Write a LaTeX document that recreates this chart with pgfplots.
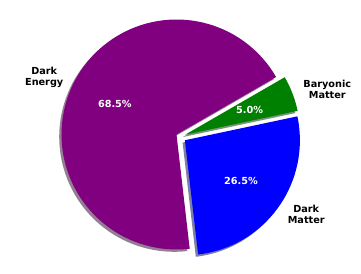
\documentclass[border=0pt]{standalone}
\usepackage{pgfplots}
\pgfplotsset{compat=1.18}
\usepackage{fontspec}
\setmainfont{DejaVu Sans}
\definecolor{mplpurple}{RGB}{128,0,128}
\definecolor{mplblue}{RGB}{0,0,255}
\definecolor{mplgreen}{RGB}{0,128,0}
% data (percent)
\def\vDE{68.5}\def\vDM{26.5}\def\vBM{5.0}
\def\startang{30}
\pgfmathsetmacro\aA{\startang}
\pgfmathsetmacro\aB{\aA+3.6*\vDE}
\pgfmathsetmacro\aC{\aB+3.6*\vDM}
\pgfmathsetmacro\aD{\aC+3.6*\vBM}
\pgfmathsetmacro\mDE{(\aA+\aB)/2}
\pgfmathsetmacro\mDM{(\aB+\aC)/2}
\pgfmathsetmacro\mBM{(\aC+\aD)/2}
% explode offsets of the wedges
\def\cxDE{0}\def\cyDE{0}
\def\cxDM{0.073}\def\cyDM{-0.05}
\def\cxBM{0.075}\def\cyBM{-0.002}
\pgfmathsetmacro\sxDE{\cxDE-0.02}\pgfmathsetmacro\syDE{\cyDE-0.02}
\pgfmathsetmacro\sxDM{\cxDM-0.02}\pgfmathsetmacro\syDM{\cyDM-0.02}
\pgfmathsetmacro\sxBM{\cxBM-0.02}\pgfmathsetmacro\syBM{\cyBM-0.02}
\pgfmathsetmacro\lxDE{\cxDE+1.1*cos(\mDE)}\pgfmathsetmacro\lyDE{\cyDE+1.1*sin(\mDE)}
\pgfmathsetmacro\lxDM{\cxDM+1.1*cos(\mDM)}\pgfmathsetmacro\lyDM{\cyDM+1.1*sin(\mDM)}
\pgfmathsetmacro\lxBM{\cxBM+1.1*cos(\mBM)}\pgfmathsetmacro\lyBM{\cyBM+1.1*sin(\mBM)}
\pgfmathsetmacro\pxDE{\cxDE+0.6*cos(\mDE)}\pgfmathsetmacro\pyDE{\cyDE+0.6*sin(\mDE)}
\pgfmathsetmacro\pxDM{\cxDM+0.6*cos(\mDM)}\pgfmathsetmacro\pyDM{\cyDM+0.6*sin(\mDM)}
\pgfmathsetmacro\pxBM{\cxBM+0.6*cos(\mBM)}\pgfmathsetmacro\pyBM{\cyBM+0.6*sin(\mBM)}
\begin{document}
\begin{tikzpicture}
\begin{axis}[hide axis, scale only axis, width=361pt, height=273pt,
  xmin=-1.53478, xmax=1.60435, ymin=-1.20435, ymax=1.16957, clip=false,
  every axis plot/.append style={draw=none, samples=90}]
\path (rel axis cs:0,0) rectangle (rel axis cs:1,1);
% shadows
\addplot[fill=mplpurple!30!black, fill opacity=0.5, domain=\aA:\aB] ({\sxDE+cos(x)},{\syDE+sin(x)}) -- (axis cs:\sxDE,\syDE) -- cycle;
\addplot[fill=mplblue!30!black, fill opacity=0.5, domain=\aB:\aC] ({\sxDM+cos(x)},{\syDM+sin(x)}) -- (axis cs:\sxDM,\syDM) -- cycle;
\addplot[fill=mplgreen!30!black, fill opacity=0.5, domain=\aC:\aD] ({\sxBM+cos(x)},{\syBM+sin(x)}) -- (axis cs:\sxBM,\syBM) -- cycle;
% wedges
\addplot[fill=mplpurple, domain=\aA:\aB] ({\cxDE+cos(x)},{\cyDE+sin(x)}) -- (axis cs:\cxDE,\cyDE) -- cycle;
\addplot[fill=mplblue, domain=\aB:\aC] ({\cxDM+cos(x)},{\cyDM+sin(x)}) -- (axis cs:\cxDM,\cyDM) -- cycle;
\addplot[fill=mplgreen, domain=\aC:\aD] ({\cxBM+cos(x)},{\cyBM+sin(x)}) -- (axis cs:\cxBM,\cyBM) -- cycle;
% labels
\begin{scope}[every node/.style={inner sep=0pt, align=center, font=\fontsize{9.7}{11}\selectfont\bfseries}]
\node[anchor=east] at (axis cs:\lxDE,\lyDE) {Dark\\Energy};
\node[anchor=west] at (axis cs:\lxDM,\lyDM) {Dark\\Matter};
\node[anchor=west] at (axis cs:\lxBM,\lyBM) {Baryonic\\Matter};
\node[text=white] at (axis cs:\pxDE,\pyDE) {68.5\%};
\node[text=white] at (axis cs:\pxDM,\pyDM) {26.5\%};
\node[text=white] at (axis cs:\pxBM,\pyBM) {5.0\%};
\end{scope}
\end{axis}
\end{tikzpicture}
\end{document}
